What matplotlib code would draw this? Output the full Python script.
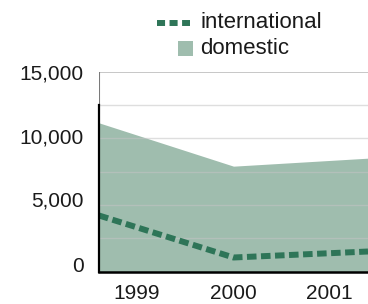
import matplotlib.pyplot as plt
from matplotlib.lines import Line2D
from matplotlib.patches import Rectangle
from matplotlib.transforms import ScaledTranslation

years = ['1999', '2000', '2001']
domestic = [11150, 7900, 8500]
international = [4200, 1050, 1500]
y_ticks = [0, 5000, 10000, 15000]
grid_ticks = [2500, 5000, 7500, 10000, 12500]

fill_col = '#9fbdae'
line_col = '#2e7558'

plt.rcParams['font.family'] = ['Liberation Sans', 'DejaVu Sans']

fig = plt.figure(figsize=(3.68, 3.04), dpi=100)
ax = fig.add_axes([99 / 368, 1 - 271.5 / 304, 1 - 99 / 368, 200 / 304])

x = list(range(len(years)))
ax.fill_between(x, 0, domestic, color=fill_col, lw=0, zorder=1)
ax.plot(x, international, color=line_col, lw=4.3, dashes=(1.6, 0.75),
        dash_capstyle='butt', solid_joinstyle='miter', zorder=3)

ax.set_xlim(0, 2)
ax.set_ylim(0, 15000)

# grid
for g in grid_ticks:
    ax.axhline(g, color='#c4c4c4', lw=1, alpha=0.55, zorder=2)
ax.axhline(y_ticks[-1], color='#bdbdbd', lw=1.2, zorder=2)
ax.vlines(0, grid_ticks[-1], y_ticks[-1], color='#7a7a7a', lw=1.5, zorder=4)

for s in ['top', 'right']:
    ax.spines[s].set_visible(False)
ax.spines['left'].set_bounds(0, grid_ticks[-1])
ax.spines['left'].set_linewidth(1.6)
ax.spines['bottom'].set_linewidth(1.8)
ax.spines['left'].set_zorder(5)
ax.spines['bottom'].set_zorder(5)

ax.set_yticks(y_ticks)
ax.set_yticklabels([f'{v:,}' for v in y_ticks])
ax.set_xticks([0.28, 1.0, 1.71])
ax.set_xticklabels(years)
ax.tick_params(axis='y', length=0, pad=11, labelsize=15, colors='#1a1a1a')
ax.tick_params(axis='x', length=0, pad=9, labelsize=15, colors='#1a1a1a')
shifts = [7, 6, 2, -1]  # px upward
for lab, s in zip(ax.get_yticklabels(), shifts):
    lab.set_transform(lab.get_transform() +
                      ScaledTranslation(0, s / 100, fig.dpi_scale_trans))

# legend
fig.add_artist(Line2D([157 / 368, 190 / 368], [1 - 22.5 / 304] * 2,
                      color=line_col, lw=4.3, dashes=(1.35, 0.75),
                      dash_capstyle='butt', transform=fig.transFigure))
fig.text(200 / 368, 1 - 22 / 304, 'international', fontsize=16,
         va='center', ha='left', color='#1a1a1a')
fig.add_artist(Rectangle((178 / 368, 1 - 56 / 304), 15 / 368, 15 / 304,
                         color=fill_col, lw=0, transform=fig.transFigure))
fig.text(200 / 368, 1 - 48 / 304, 'domestic', fontsize=16,
         va='center', ha='left', color='#1a1a1a')

fig.savefig('out.png', dpi=100)
